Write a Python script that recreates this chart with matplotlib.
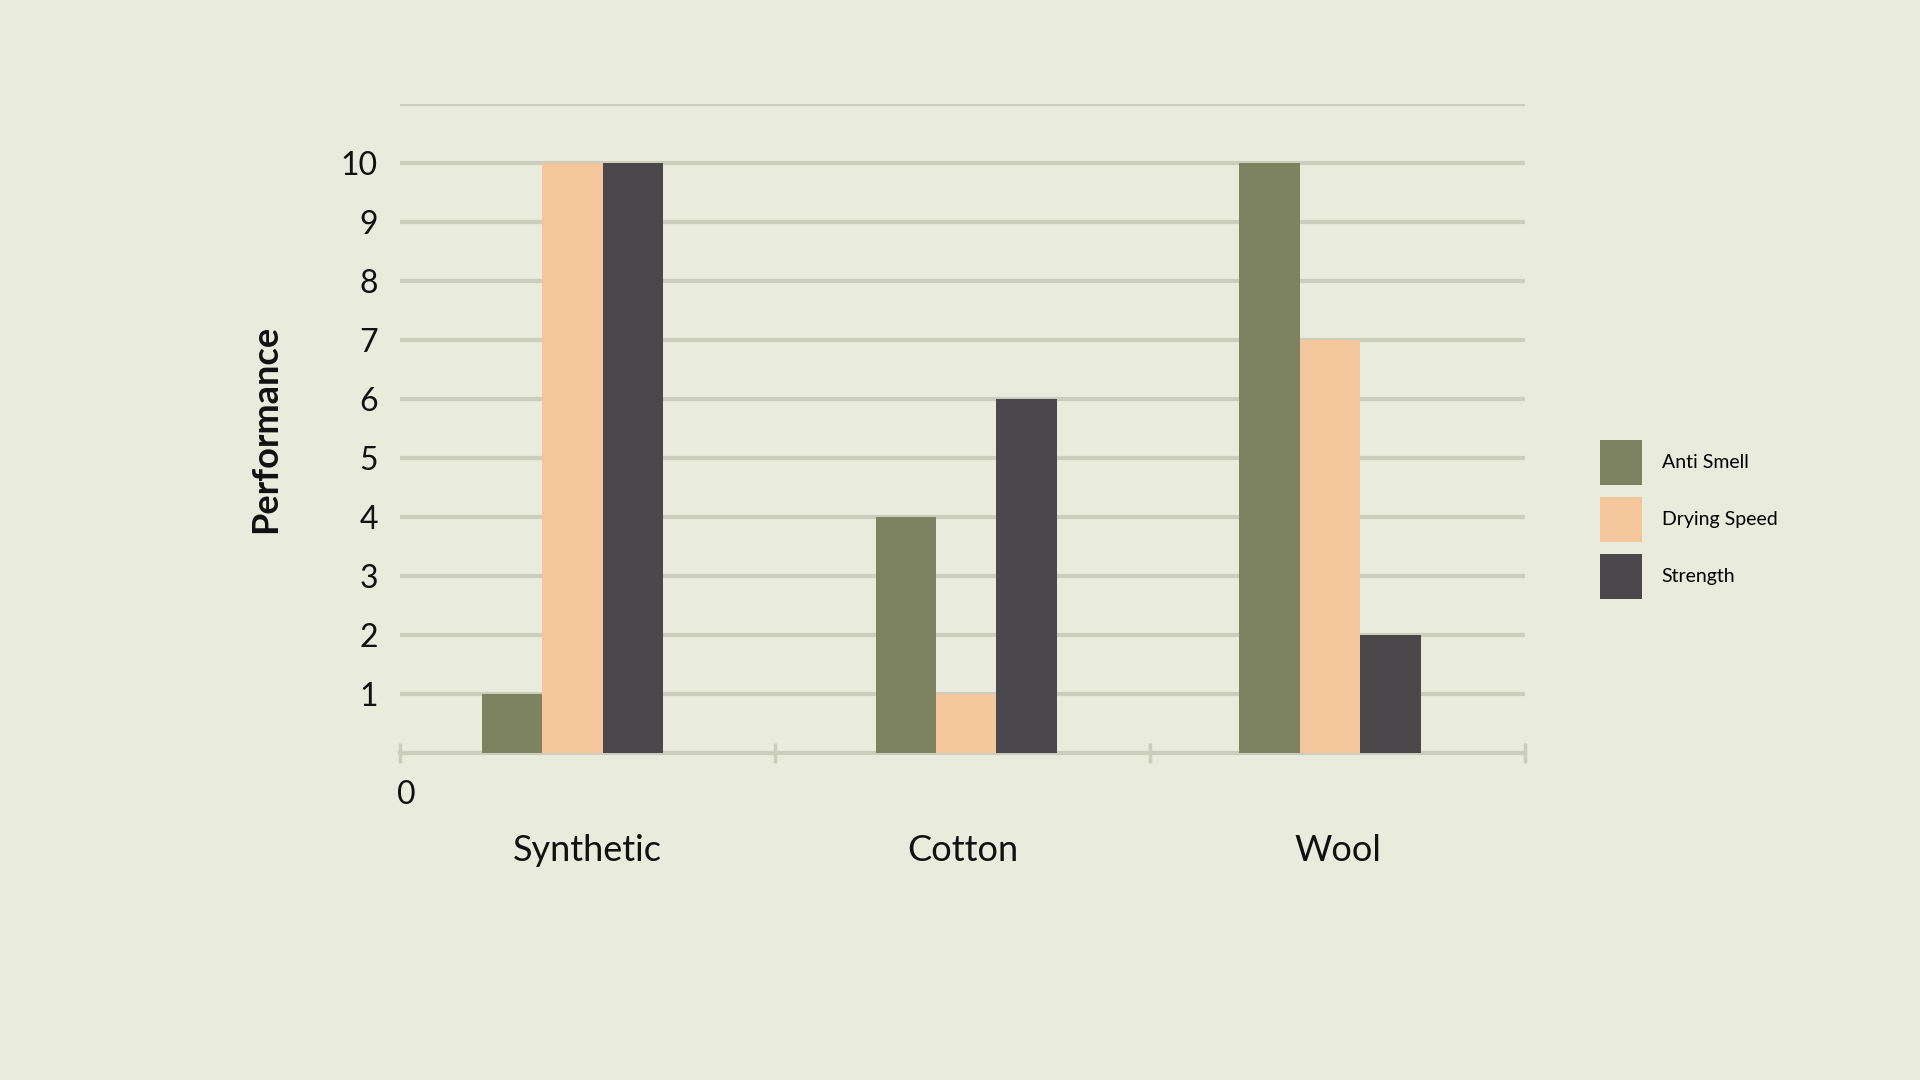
import numpy as np
import matplotlib.pyplot as plt
from matplotlib.patches import Patch

# data
fabrics = ['Synthetic', 'Cotton', 'Wool']
anti_smell = [1, 4, 10]
drying_speed = [10, 1, 7]
strength = [10, 6, 2]
series_names = ['Anti Smell', 'Drying Speed', 'Strength']
y_ticks = [1, 2, 3, 4, 5, 6, 7, 8, 9, 10]

# colours
bg = '#e9ebdc'
grid_c = '#cbcebd'
colors = ['#7d8360', '#f3c69c', '#4a484b']

plt.rcParams['font.family'] = ['Lato', 'DejaVu Sans']

fig = plt.figure(figsize=(19.2, 10.8), dpi=100, facecolor=bg)
ax = fig.add_axes([0.2083, 0.3028, 0.5860, 0.6009])
ax.set_facecolor(bg)

x = np.arange(len(fabrics))
group_shift = np.array([-0.04, 0.01, -0.02])  # groups sit a little off-centre
w = 0.161
series = [anti_smell, drying_speed, strength]
for i, (vals, c) in enumerate(zip(series, colors)):
    ax.bar(x + group_shift + (i - 1) * w, vals, width=w, color=c, zorder=3, label=series_names[i])

ax.set_xlim(-0.5, 2.5)
ax.set_ylim(0, 11)

# gridlines (1..11) behind the bars
ax.set_yticks(y_ticks)
for v in range(1, 12):
    ax.axhline(v, color=grid_c, lw=3.0, zorder=1)

for s in ['top', 'right', 'left']:
    ax.spines[s].set_visible(False)
ax.spines['bottom'].set_color(grid_c)
ax.spines['bottom'].set_linewidth(3.0)
ax.spines['bottom'].set_zorder(2)

ax.tick_params(axis='y', length=0, pad=16, labelsize=23, labelcolor='#111111')
ax.set_xticks(x)
ax.set_xticklabels(fabrics)
ax.tick_params(axis='x', which='major', length=0, pad=58, labelsize=26, labelcolor='#111111')
ax.set_xticks([-0.5, 0.5, 1.5, 2.5], minor=True)
ax.tick_params(axis='x', which='minor', direction='inout', length=14, width=2.5, color=grid_c)

# the lone zero label under the axis
ax.text(0.006, -0.72, '0', transform=ax.get_yaxis_transform(), ha='center', va='center',
        fontsize=23, color='#111111', clip_on=False)

ax.set_ylabel('Performance', fontsize=26, fontweight='bold', color='#111111', labelpad=42)

handles = [Patch(facecolor=c, edgecolor='none') for c in colors]
fig.legend(handles, series_names, loc='center left', bbox_to_anchor=(0.824, 0.519),
           frameon=False, fontsize=14, handlelength=2.2, handleheight=3.2,
           labelspacing=0.6, handletextpad=1.0)

fig.savefig('out.png', dpi=100, facecolor=bg)
